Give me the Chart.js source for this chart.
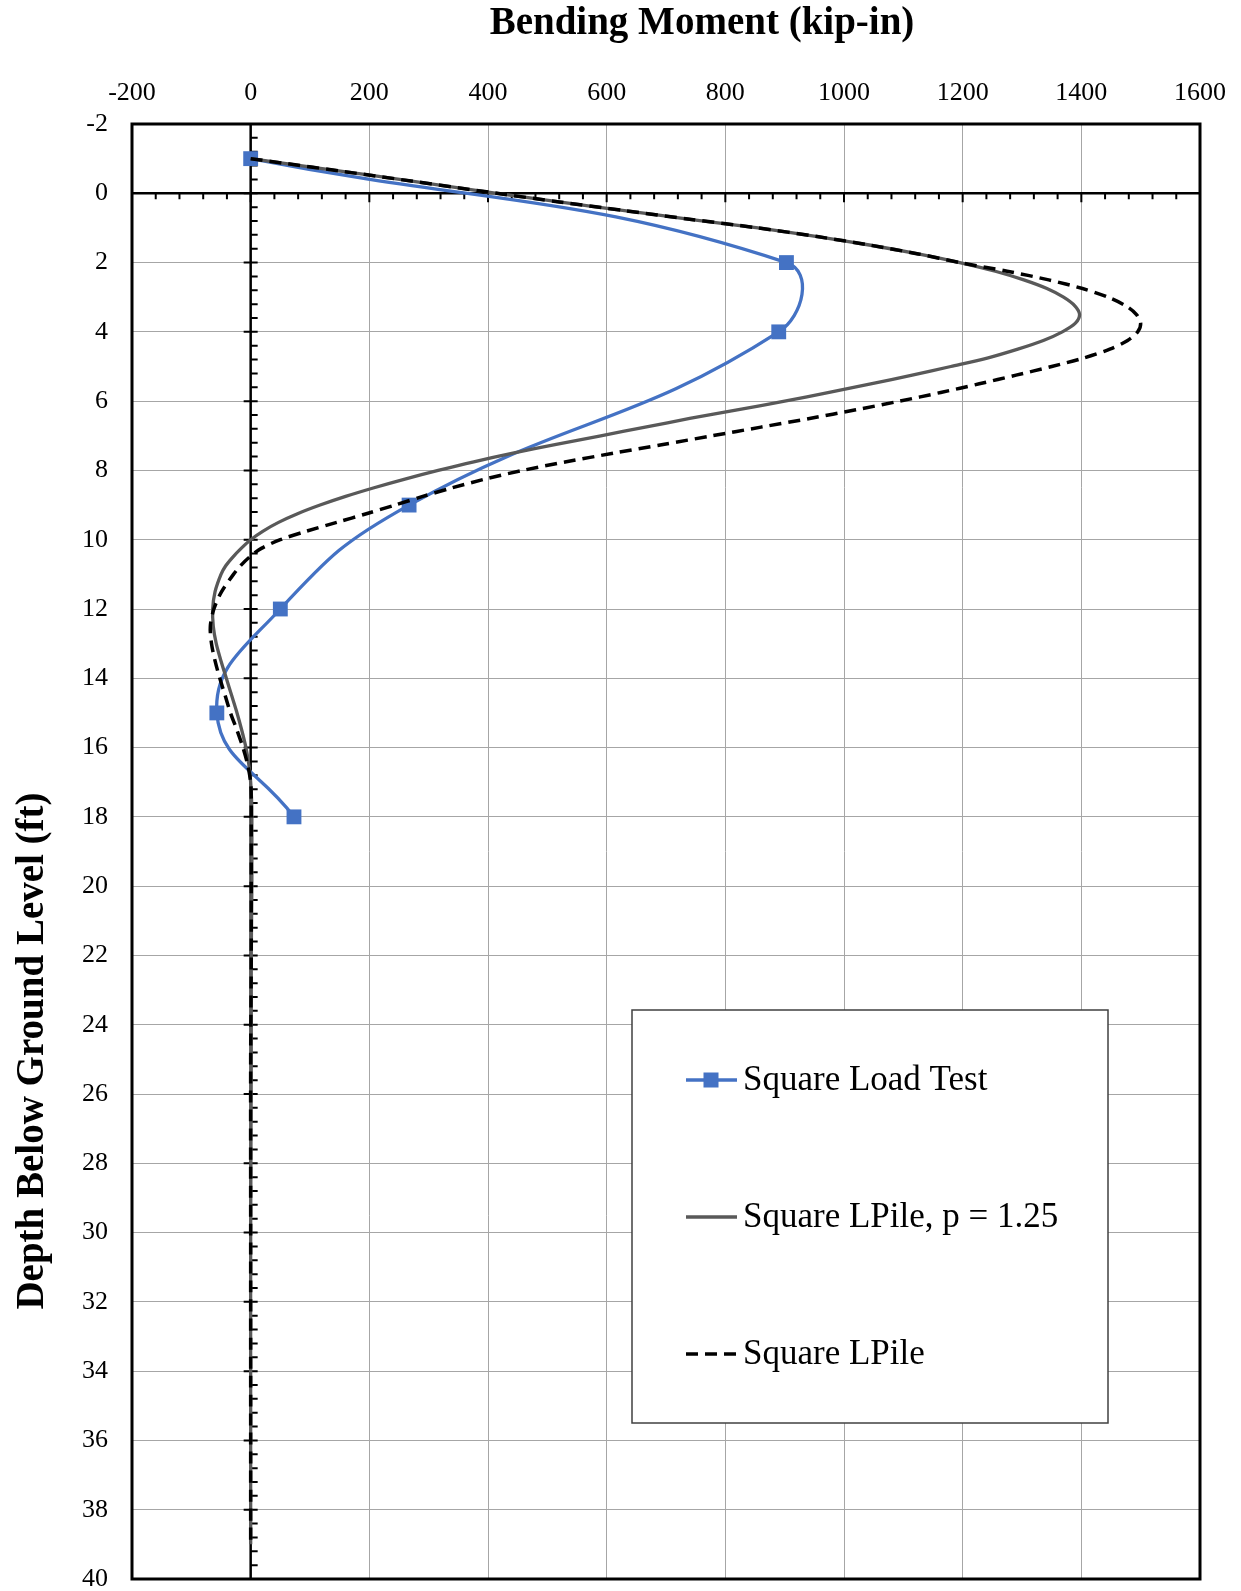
<!DOCTYPE html>
<html>
<head>
<meta charset="utf-8">
<title>Bending Moment vs Depth</title>
<script src="https://cdn.jsdelivr.net/npm/chart.js@4.4.1/dist/chart.umd.min.js"></script>
<style>
    html, body { margin: 0; padding: 0; background: #fff; overflow: hidden; }
    #wrap { width: 1241px; height: 1591px; position: relative; }
</style>
</head>
<body>
<div id="wrap"><canvas id="myChart"></canvas></div>
<script>
// load test (measured)
const testDepth = [-1, 2, 4, 9, 12, 15, 18];
const testMoment = [0, 903, 890, 267, 50, -57, 73];

// LPile runs
const lpDepth = [-1, -0.5, 0, 0.25, 0.5, 0.75, 1, 1.25, 1.5, 1.75, 2, 2.25, 2.5, 2.75, 3, 3.25, 3.5, 3.75,
    4, 4.25, 4.5, 4.75, 5, 5.25, 5.5, 5.75, 6, 6.25, 6.5, 6.75, 7, 7.25, 7.5, 7.75, 8, 8.25, 8.5, 8.75,
    9, 9.25, 9.5, 9.75, 10, 10.25, 10.5, 10.75, 11, 11.5, 12, 12.5, 13, 13.5, 14, 14.5, 15, 15.5, 16, 16.5,
    17, 17.5, 18, 19, 20, 22, 25, 30, 35, 39];
const lp125Moment = [0, 210, 415, 520, 630, 740, 855, 955, 1045, 1125, 1195, 1255, 1303, 1342, 1370, 1389, 1397, 1390,
    1368, 1336, 1293, 1243, 1180, 1115, 1045, 975, 900, 820, 740, 665, 590, 515, 442, 376, 316, 260, 208, 160,
    117, 79, 47, 21, 0, -16, -30, -42, -50, -60, -64, -63, -58, -50, -41, -32, -23, -15, -8, -3,
    0, 1.5, 2, 2, 2, 1, 1, 0, 0, 0];
const lpMoment = [0, 210, 415, 520, 630, 740, 855, 955, 1045, 1125, 1195, 1275, 1345, 1402, 1445, 1475, 1493, 1500,
    1495, 1478, 1448, 1405, 1350, 1290, 1228, 1163, 1094, 1020, 942, 860, 778, 695, 612, 532, 458, 395, 340, 290,
    243, 195, 145, 95, 50, 18, -2, -17, -29, -49, -62, -68, -66, -60, -52, -43, -34, -23, -13, -5,
    0, 1, 1, 1, 1, 1, 0, 0, 0, 0];

const momentTicks = [-200, 0, 200, 400, 600, 800, 1000, 1200, 1400, 1600];
const depthTicks = [-2, 0, 2, 4, 6, 8, 10, 12, 14, 16, 18, 20, 22, 24, 26, 28, 30, 32, 34, 36, 38, 40];

const seriesNames = ["Square Load Test", "Square LPile, p = 1.25", "Square LPile"];
const xTitle = "Bending Moment (kip-in)";
const yTitle = "Depth Below Ground Level (ft)";

const serif = "'Liberation Serif', 'Times New Roman', serif";

function pts(depth, moment) {
    return depth.map((d, i) => ({ x: moment[i], y: d }));
}

// axes crossing at zero, Excel style, with minor ticks
const zeroAxes = {
    id: 'zeroAxes',
    beforeDatasetsDraw(chart) {
        const { ctx, chartArea: a, scales: { x, y } } = chart;
        const x0 = x.getPixelForValue(0);
        const y0 = y.getPixelForValue(0);
        ctx.save();
        ctx.strokeStyle = '#000';
        ctx.lineWidth = 2.5;
        ctx.beginPath();
        ctx.moveTo(x0, a.top); ctx.lineTo(x0, a.bottom);
        ctx.moveTo(a.left, y0); ctx.lineTo(a.right, y0);
        ctx.stroke();

        ctx.lineWidth = 2;
        ctx.beginPath();
        for (let i = 0; i <= 105; i++) {
            const py = y.getPixelForValue(-2 + i * 0.4);
            const major = i % 5 === 0;
            ctx.moveTo(major ? x0 - 7 : x0, py);
            ctx.lineTo(x0 + 7, py);
        }
        for (let i = 1; i < 45; i++) {
            const px = x.getPixelForValue(-200 + i * 40);
            ctx.moveTo(px, y0);
            ctx.lineTo(px, y0 + (i % 5 === 0 ? 9 : 6));
        }
        ctx.stroke();
        ctx.restore();
    }
};

const frameAndText = {
    id: 'frameAndText',
    afterDraw(chart) {
        const { ctx, chartArea: a } = chart;
        ctx.save();
        // plot frame
        ctx.strokeStyle = '#000';
        ctx.lineWidth = 3;
        ctx.strokeRect(a.left, a.top, a.right - a.left, a.bottom - a.top);

        // titles
        ctx.fillStyle = '#000';
        ctx.font = "bold 39px " + serif;
        ctx.textAlign = 'center';
        ctx.textBaseline = 'alphabetic';
        ctx.fillText(xTitle, 702, 34);

        ctx.save();
        ctx.translate(43, 1051);
        ctx.rotate(-Math.PI / 2);
        ctx.font = "bold 39px " + serif;
        ctx.fillText(yTitle, 0, 0);
        ctx.restore();

        // legend
        const bx = 632, by = 1010, bw = 476, bh = 413;
        ctx.fillStyle = '#fff';
        ctx.fillRect(bx, by, bw, bh);
        ctx.strokeStyle = '#404040';
        ctx.lineWidth = 1.5;
        ctx.strokeRect(bx, by, bw, bh);

        const rows = [1080, 1217, 1354];
        chart.data.datasets.forEach((ds, i) => {
            const ry = rows[i];
            ctx.save();
            ctx.strokeStyle = ds.borderColor;
            ctx.lineWidth = ds.borderWidth;
            ctx.setLineDash(ds.borderDash || []);
            ctx.beginPath();
            ctx.moveTo(686, ry);
            ctx.lineTo(737, ry);
            ctx.stroke();
            if (ds.pointRadius > 0) {
                ctx.fillStyle = ds.backgroundColor;
                ctx.fillRect(711 - 7.5, ry - 7.5, 15, 15);
            }
            ctx.restore();
            ctx.fillStyle = '#000';
            ctx.font = "35px " + serif;
            ctx.textAlign = 'left';
            ctx.textBaseline = 'middle';
            ctx.fillText(ds.label, 743, ry + 1);
        });
        ctx.restore();
    }
};

const config = {
    type: 'scatter',
    data: {
        datasets: [{
            label: seriesNames[0],
            data: pts(testDepth, testMoment),
            showLine: true,
            borderColor: '#4472C4',
            backgroundColor: '#4472C4',
            borderWidth: 3.3,
            tension: 0.45,
            pointStyle: 'rect',
            pointRadius: 10.5,
            pointBorderWidth: 0,
            order: 2
        }, {
            label: seriesNames[1],
            data: pts(lpDepth, lp125Moment),
            showLine: true,
            borderColor: '#595959',
            backgroundColor: '#595959',
            borderWidth: 3.3,
            tension: 0.3,
            pointRadius: 0,
            order: 1
        }, {
            label: seriesNames[2],
            data: pts(lpDepth, lpMoment),
            showLine: true,
            borderColor: '#000',
            backgroundColor: '#000',
            borderWidth: 3.5,
            borderDash: [12, 7],
            tension: 0.3,
            pointRadius: 0,
            order: 0
        }]
    },
    options: {
        responsive: true,
        maintainAspectRatio: false,
        animation: false,
        layout: { padding: { top: 0, left: 0, right: 41, bottom: 12 } },
        plugins: {
            legend: { display: false },
            tooltip: { enabled: false },
            title: { display: false }
        },
        scales: {
            x: {
                type: 'linear',
                position: 'top',
                min: -200,
                max: 1600,
                afterBuildTicks: s => { s.ticks = momentTicks.map(v => ({ value: v })); },
                afterFit: s => {
                    s.height = 124;
                    s.paddingLeft = 0;
                    s.paddingRight = 0;
                },
                ticks: {
                    color: '#000',
                    font: { family: serif, size: 26 },
                    padding: 15,
                    callback: v => String(v)
                },
                grid: { color: '#A6A6A6', lineWidth: 1, drawTicks: false },
                border: { display: false }
            },
            y: {
                type: 'linear',
                reverse: true,
                min: -2,
                max: 40,
                afterBuildTicks: s => { s.ticks = depthTicks.map(v => ({ value: v })); },
                afterFit: s => {
                    s.width = 132;
                    s.paddingTop = 0;
                    s.paddingBottom = 0;
                },
                ticks: {
                    color: '#000',
                    font: { family: serif, size: 26, lineHeight: 1 },
                    padding: 24,
                    callback: v => String(v)
                },
                grid: { color: '#A6A6A6', lineWidth: 1, drawTicks: false },
                border: { display: false }
            }
        }
    },
    plugins: [zeroAxes, frameAndText]
};

const myChart = new Chart(document.getElementById("myChart"), config);
</script>
</body>
</html>
